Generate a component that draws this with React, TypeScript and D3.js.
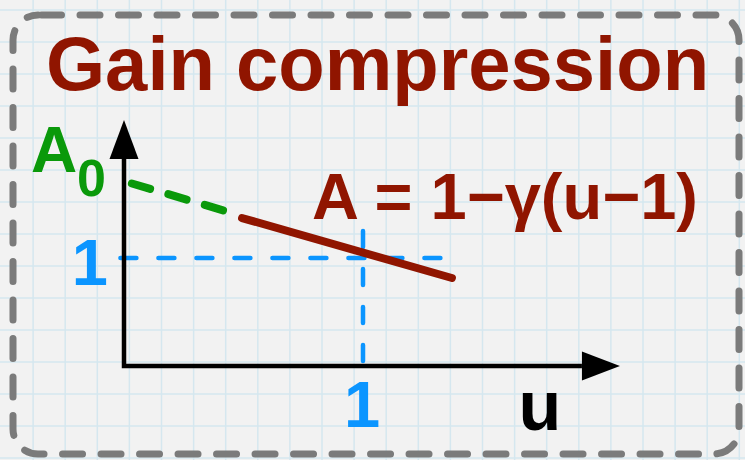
import React from "react";
import * as d3 from "d3";

const W = 745;
const H = 460;

// Data (in chart units: u horizontal, A vertical)
const titleText = "Gain compression";
const equationText = "A = 1\u2212\u03b3(u\u22121)";
const a0Label = ["A", "0"];
const tickLabelsU = [{ u: 1, label: "1" }];
const tickLabelsA = [{ a: 1, label: "1" }];
const axisLabelU = "u";
const greenLineU = [0.033, 0.44];
const greenLineA = [1.69, 1.425];
const redLineU = [0.494, 1.372];
const redLineA = [1.37, 0.815];
const uAxisExtent = [0, 1.916, 2.075];
const aAxisExtent = [0, 1.917, 2.278];
const guideH = { a: 1, u0: -0.015, u1: 1.34 };
const guideV = { u: 1, a0: 0, a1: 1.25 };

export default function App() {
  const x = d3.scaleLinear().domain([0, 1]).range([124, 363]);
  const y = d3.scaleLinear().domain([0, 1]).range([366, 258]);

  const gridX = d3.range(1, 24).map((k) => 1 + 32.1 * k);
  const gridY = d3.range(0, 15).map((k) => 10 + 32 * k);

  const line = d3
    .line<[number, number]>()
    .x((d) => x(d[0]))
    .y((d) => y(d[1]));

  const greenPts: [number, number][] = greenLineU.map((u, i) => [u, greenLineA[i]]);
  const redPts: [number, number][] = redLineU.map((u, i) => [u, redLineA[i]]);

  const axisPath = line([
    [0, aAxisExtent[1]],
    [0, 0],
    [uAxisExtent[1], 0],
  ] as [number, number][]);

  const ox = x(0);
  const oy = y(0);
  const yArrowTip = y(aAxisExtent[2]);
  const yArrowBase = y(aAxisExtent[1]);
  const xArrowTip = x(uAxisExtent[2]);
  const xArrowBase = x(uAxisExtent[1]);

  const L = 13, R = 739, T = 15, B = 454, r = 25;
  const borderPath = `M ${L + r} ${T} H ${R - r} A ${r} ${r} 0 0 1 ${R} ${T + r} V ${B - r} A ${r} ${r} 0 0 1 ${R - r} ${B} H ${L + r} A ${r} ${r} 0 0 1 ${L} ${B - r} V ${T + r} A ${r} ${r} 0 0 1 ${L + r} ${T} Z`;

  const font = "'Liberation Sans', Arial, Helvetica, sans-serif";
  const red = "#901500";
  const green = "#0a990a";
  const blue = "#0b95ff";

  return (
    <svg
      width={W}
      height={H}
      viewBox={`0 0 ${W} ${H}`}
      style={{ position: "absolute", left: 0, top: 0 }}
      fontFamily={font}
      fontWeight="bold"
    >
      <rect x={0} y={0} width={W} height={H} fill="#f2f2f2" />
      <g stroke="#d5e7ef" strokeWidth={1.5}>
        {gridX.map((gx, i) => (
          <line key={"gx" + i} x1={gx} x2={gx} y1={0} y2={H} />
        ))}
        {gridY.map((gy, i) => (
          <line key={"gy" + i} x1={0} x2={W} y1={gy} y2={gy} />
        ))}
      </g>

      <path
        d={borderPath}
        fill="none"
        stroke="#7b7b7b"
        strokeWidth={7}
        strokeLinecap="round"
        strokeDasharray="20 18.5"
        strokeDashoffset={-3.5}
      />

      <text x={46} y={90} fontSize={76} fill={red}>
        {titleText}
      </text>

      {/* guide lines */}
      <line
        x1={x(guideH.u0)}
        x2={x(guideH.u1)}
        y1={y(guideH.a)}
        y2={y(guideH.a)}
        stroke={blue}
        strokeWidth={4.5}
        strokeLinecap="round"
        strokeDasharray="16 22"
      />
      <line
        x1={x(guideV.u)}
        x2={x(guideV.u)}
        y1={y(guideV.a1)}
        y2={y(guideV.a0)}
        stroke={blue}
        strokeWidth={4.5}
        strokeLinecap="round"
        strokeDasharray="16 22"
      />

      {/* axes */}
      <path d={axisPath ?? ""} fill="none" stroke="#000" strokeWidth={4.5} strokeLinejoin="miter" />
      <path
        d={`M ${ox} ${yArrowTip} L ${ox + 14.5} ${yArrowBase} L ${ox - 14.5} ${yArrowBase} Z`}
        fill="#000"
      />
      <path
        d={`M ${xArrowTip} ${oy} L ${xArrowBase} ${oy - 14.5} L ${xArrowBase} ${oy + 14.5} Z`}
        fill="#000"
      />

      {/* curves */}
      <path
        d={line(greenPts) ?? ""}
        fill="none"
        stroke={green}
        strokeWidth={8}
        strokeLinecap="round"
        strokeDasharray="19 19"
      />
      <path
        d={line(redPts) ?? ""}
        fill="none"
        stroke={red}
        strokeWidth={8}
        strokeLinecap="round"
      />

      {/* labels */}
      <text x={31} y={172} fontSize={64} fill={green}>
        {a0Label[0]}
      </text>
      <text x={77} y={196} fontSize={52} fill={green}>
        {a0Label[1]}
      </text>

      {tickLabelsA.map((t) => (
        <text key={"ta" + t.label} x={108} y={y(t.a) + 27} fontSize={65} fill={blue} textAnchor="end">
          {t.label}
        </text>
      ))}
      {tickLabelsU.map((t) => (
        <text key={"tu" + t.label} x={x(t.u) - 1} y={427} fontSize={65} fill={blue} textAnchor="middle">
          {t.label}
        </text>
      ))}
      <text x={540} y={430} fontSize={70} fill="#000" textAnchor="middle">
        {axisLabelU}
      </text>

      <text x={312} y={219} fontSize={65} fill={red}>
        {equationText}
      </text>
    </svg>
  );
}
